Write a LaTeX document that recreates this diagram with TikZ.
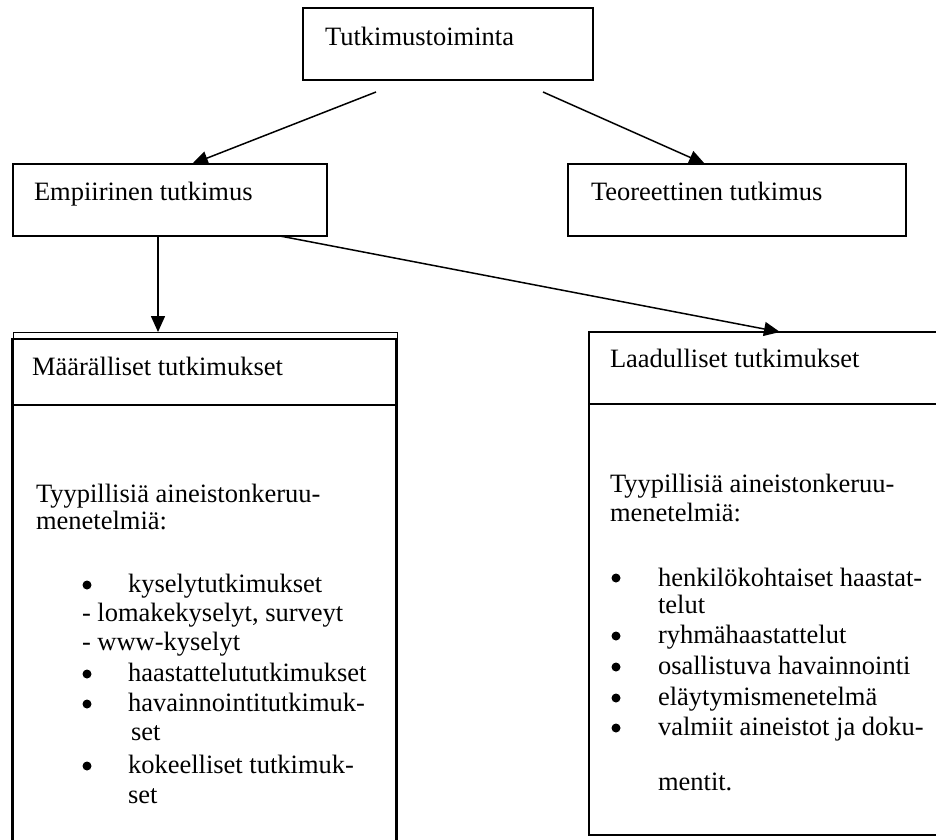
\documentclass[tikz,border=0pt]{standalone}
\usepackage{fontspec}
\setmainfont{Liberation Serif}
\usetikzlibrary{arrows.meta,calc}
\begin{document}
\begin{tikzpicture}[x=1pt,y=-1pt,
  box/.style={draw=black,line width=1.5pt,anchor=north west,inner sep=0pt,outer sep=0pt},
  thinbox/.style={draw=black,line width=1pt,anchor=north west,inner sep=0pt,outer sep=0pt},
  txt/.style={anchor=base west,inner sep=0pt,outer sep=0pt,font=\fontsize{26.5}{30}\selectfont},
  bul/.style={circle,fill=black,inner sep=0pt,minimum size=9pt},
  arr/.style={line width=1.5pt,-{Triangle[length=16pt,width=14pt]}},
  divider/.style={line width=1.5pt}]
\useasboundingbox (0,0) rectangle (936,839);
\clip (0,0) rectangle (936,839);
% boxes
\node[box,minimum width=290pt,minimum height=72pt] (top) at (303,8) {};
\node[box,minimum width=314pt,minimum height=72pt] (emp) at (13,164) {};
\node[box,minimum width=338pt,minimum height=72pt] (teo) at (568,164) {};
\node[thinbox,minimum width=384pt,minimum height=580pt] (lqout) at (13,332) {};
\node[box,minimum width=384pt,minimum height=580pt] (lq) at (12,339) {};
\node[box,minimum width=360pt,minimum height=503pt] (lad) at (589,332) {};
\draw[divider] ($(lq.north west)+(0,66)$) -- ($(lq.north east)+(0,66)$);
\draw[divider] ($(lad.north west)+(0,72)$) -- ($(lad.north east)+(0,72)$);
% titles
\node[txt] (ttop) at (325,45) {Tutkimustoiminta};
\node[txt] (temp) at (34,200) {Empiirinen tutkimus};
\node[txt] (tteo) at (591,200) {Teoreettinen tutkimus};
\node[txt] (tlq) at (32,375) {Määrälliset tutkimukset};
\node[txt] (tlad) at (610,367) {Laadulliset tutkimukset};
% arrows
\coordinate (s1) at (376,92);
\coordinate (s2) at (543,92);
\draw[arr] (s1) -- ($(emp.north west)+(179,0)$);
\draw[arr] (s2) -- ($(teo.north west)+(137,0)$);
\draw[arr] ($(emp.south west)+(145,0)$) -- ($(lqout.north west)+(145,0)$);
\draw[arr] ($(emp.south west)+(267,0)$) -- ($(lad.north west)+(191,0)$);
% left body
\node[txt] (l1) at (36,502) {Tyypillisiä aineistonkeruu-};
\node[txt] (l2) at (36,529) {menetelmiä:};
\node[bul] (lb1) at (87,585) {};
\node[txt] (l3) at (128,592) {kyselytutkimukset};
\node[txt] (l4) at (82,621) {- lomakekyselyt, surveyt};
\node[txt] (l5) at (82,650) {- www-kyselyt};
\node[bul] (lb2) at (87,674) {};
\node[txt] (l6) at (128,681) {haastattelututkimukset};
\node[bul] (lb3) at (87,704) {};
\node[txt] (l7) at (128,711) {havainnointitutkimuk-};
\node[txt] (l8) at (131,740) {set};
\node[bul] (lb4) at (87,766) {};
\node[txt] (l9) at (128,773) {kokeelliset tutkimuk-};
\node[txt] (l10) at (128,803) {set};
% right body
\node[txt] (r1) at (610,492) {Tyypillisiä aineistonkeruu-};
\node[txt] (r2) at (610,521) {menetelmiä:};
\node[bul] (rb1) at (616,578) {};
\node[txt] (r3) at (658,586) {henkilökohtaiset haastat-};
\node[txt] (r4) at (658,613) {telut};
\node[bul] (rb2) at (616,636) {};
\node[txt] (r5) at (658,643) {ryhmähaastattelut};
\node[bul] (rb3) at (616,667) {};
\node[txt] (r6) at (658,674) {osallistuva havainnointi};
\node[bul] (rb4) at (616,698) {};
\node[txt] (r7) at (658,705) {eläytymismenetelmä};
\node[bul] (rb5) at (616,728) {};
\node[txt] (r8) at (658,735) {valmiit aineistot ja doku-};
\node[txt] (r9) at (658,790) {mentit.};
\end{tikzpicture}
\end{document}
